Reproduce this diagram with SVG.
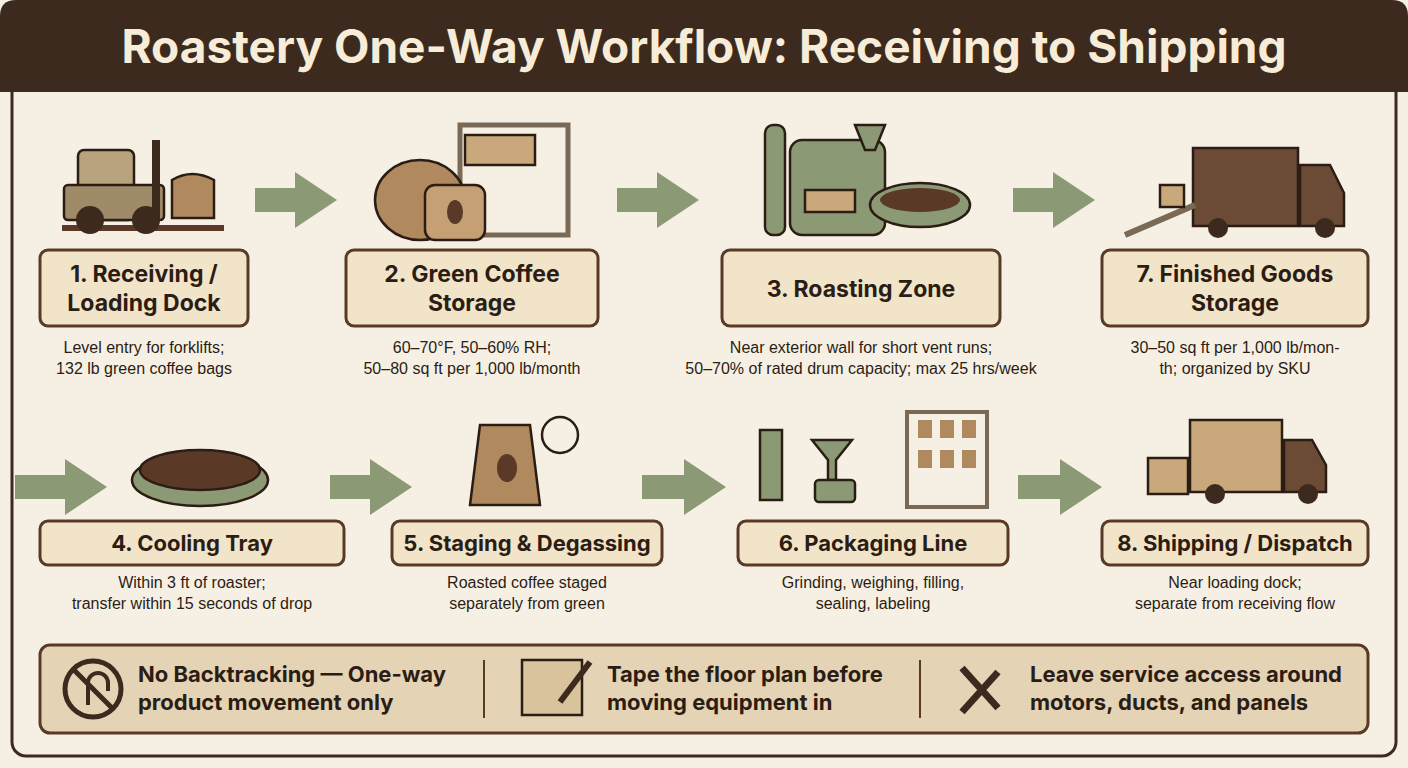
<svg xmlns="http://www.w3.org/2000/svg" width="1408" height="768" viewBox="0 0 1408 768">
<style>
.lbl{fill:#f1e4c9;stroke:#5a3a26;stroke-width:3}
.t{font-family:Inter,"Liberation Sans",sans-serif;font-weight:700;fill:#2b1d14;text-anchor:middle}
.d{font-family:"Liberation Sans",sans-serif;font-size:16px;fill:#2b1d14;text-anchor:middle}
.b{font-family:Inter,"Liberation Sans",sans-serif;font-weight:700;font-size:22px;fill:#2b1d14}
.ar{fill:#8b9a74}
.ink{stroke:#2b1d14;stroke-width:2.5}
</style>
<rect width="1408" height="768" fill="#f6f0e4"/>
<rect x="12" y="70" width="1384" height="686" rx="14" fill="#f6f0e4" stroke="#3d2a1e" stroke-width="3"/>
<path d="M0 92V16Q0 0 16 0H1392Q1408 0 1408 16V92Z" fill="#3d2a1e"/>
<text x="704" y="63" class="t" style="font-size:46px;fill:#f6ecd8">Roastery One-Way Workflow: Receiving to Shipping</text>

<g id="connectors">
<path class="ar" d="M255 188H295V172L337 200L295 228V212H255Z"/>
<path class="ar" d="M617 188H657V172L699 200L657 228V212H617Z"/>
<path class="ar" d="M1013 188H1053V172L1095 200L1053 228V212H1013Z"/>
<path class="ar" d="M15 475H65V459L107 487L65 515V499H15Z"/>
<path class="ar" d="M330 475H370V459L412 487L370 515V499H330Z"/>
<path class="ar" d="M642 475H684V459L726 487L684 515V499H642Z"/>
<path class="ar" d="M1018 475H1060V459L1102 487L1060 515V499H1018Z"/>
</g>

<g id="n1">
<rect x="62" y="225" width="162" height="6" fill="#5a3a26"/>
<rect x="78" y="150" width="56" height="70" rx="6" fill="#b9a27e" class="ink"/>
<rect x="64" y="185" width="100" height="35" rx="4" fill="#a08b68" class="ink"/>
<circle cx="90" cy="220" r="14" fill="#3d2a1e"/><circle cx="146" cy="220" r="14" fill="#3d2a1e"/>
<rect x="152" y="140" width="8" height="82" fill="#3d2a1e"/>
<path d="M172 180q20-12 42 0v38h-42z" fill="#b08a5e" class="ink"/>
<rect class="lbl" x="40" y="250" width="208" height="76" rx="8"/>
<text x="144" y="282" class="t" font-size="23">1. Receiving /</text>
<text x="144" y="311" class="t" font-size="23">Loading Dock</text>
<text x="144" y="353" class="d">Level entry for forklifts;</text>
<text x="144" y="374" class="d">132 lb green coffee bags</text>
</g>

<g id="n2">
<rect x="460" y="125" width="108" height="110" fill="none" stroke="#7a6a55" stroke-width="5"/>
<rect x="465" y="135" width="70" height="30" fill="#c9a97c" class="ink"/>
<ellipse cx="420" cy="200" rx="45" ry="40" fill="#b08a5e" class="ink"/>
<rect x="425" y="185" width="60" height="55" rx="10" fill="#c4a074" class="ink"/>
<ellipse cx="455" cy="212" rx="8" ry="12" fill="#5a3a26"/>
<rect class="lbl" x="346" y="250" width="252" height="76" rx="8"/>
<text x="472" y="282" class="t" font-size="23">2. Green Coffee</text>
<text x="472" y="311" class="t" font-size="23">Storage</text>
<text x="472" y="353" class="d">60–70°F, 50–60% RH;</text>
<text x="472" y="374" class="d">50–80 sq ft per 1,000 lb/month</text>
</g>

<g id="n3">
<rect x="765" y="125" width="20" height="110" rx="8" fill="#8b9a74" class="ink"/>
<rect x="790" y="140" width="95" height="95" rx="12" fill="#8b9a74" class="ink"/>
<rect x="805" y="190" width="50" height="22" fill="#c9a97c" class="ink"/>
<path d="M855 125h30l-10 25h-10z" fill="#8b9a74" class="ink"/>
<ellipse cx="920" cy="205" rx="50" ry="22" fill="#8b9a74" class="ink"/>
<ellipse cx="920" cy="200" rx="40" ry="12" fill="#5a3a26"/>
<rect class="lbl" x="722" y="250" width="278" height="76" rx="8"/>
<text x="861" y="297" class="t" font-size="23">3. Roasting Zone</text>
<text x="861" y="353" class="d">Near exterior wall for short vent runs;</text>
<text x="861" y="374" class="d">50–70% of rated drum capacity; max 25 hrs/week</text>
</g>

<g id="n7">
<rect x="1193" y="148" width="105" height="78" fill="#6b4a36" class="ink"/>
<path d="M1300 165h30l14 28v33h-44z" fill="#6b4a36" class="ink"/>
<circle cx="1218" cy="228" r="10" fill="#3d2a1e"/><circle cx="1325" cy="228" r="10" fill="#3d2a1e"/>
<path d="M1125 235l70-30" stroke="#7a6a55" stroke-width="6"/>
<rect x="1160" y="185" width="24" height="22" fill="#c9a97c" class="ink"/>
<rect class="lbl" x="1102" y="250" width="266" height="76" rx="8"/>
<text x="1235" y="282" class="t" font-size="23">7. Finished Goods</text>
<text x="1235" y="311" class="t" font-size="23">Storage</text>
<text x="1235" y="353" class="d">30–50 sq ft per 1,000 lb/mon-</text>
<text x="1235" y="374" class="d">th; organized by SKU</text>
</g>

<g id="n4">
<ellipse cx="200" cy="480" rx="68" ry="26" fill="#8b9a74" class="ink"/>
<ellipse cx="200" cy="470" rx="60" ry="20" fill="#5a3a26" class="ink"/>
<rect class="lbl" x="40" y="521" width="304" height="44" rx="8"/>
<text x="192" y="551" class="t" font-size="22">4. Cooling Tray</text>
<text x="192" y="588" class="d">Within 3 ft of roaster;</text>
<text x="192" y="609" class="d">transfer within 15 seconds of drop</text>
</g>

<g id="n5">
<path d="M480 425h50l10 80h-70z" fill="#b08a5e" class="ink"/>
<ellipse cx="507" cy="468" rx="10" ry="14" fill="#5a3a26"/>
<circle cx="560" cy="435" r="18" fill="#f6f0e4" class="ink"/>
<rect class="lbl" x="392" y="521" width="270" height="44" rx="8"/>
<text x="527" y="551" class="t" font-size="22">5. Staging &amp; Degassing</text>
<text x="527" y="588" class="d">Roasted coffee staged</text>
<text x="527" y="609" class="d">separately from green</text>
</g>

<g id="n6">
<rect x="760" y="430" width="22" height="70" fill="#8b9a74" class="ink"/>
<path d="M812 440h40l-16 20v20h-8v-20z" fill="#8b9a74" class="ink"/>
<rect x="815" y="480" width="40" height="22" rx="4" fill="#8b9a74" class="ink"/>
<rect x="907" y="412" width="80" height="95" fill="none" stroke="#7a6a55" stroke-width="4"/>
<rect x="918" y="420" width="14" height="18" fill="#b08a5e"/><rect x="940" y="420" width="14" height="18" fill="#b08a5e"/><rect x="962" y="420" width="14" height="18" fill="#b08a5e"/>
<rect x="918" y="450" width="14" height="18" fill="#b08a5e"/><rect x="940" y="450" width="14" height="18" fill="#b08a5e"/><rect x="962" y="450" width="14" height="18" fill="#b08a5e"/>
<rect class="lbl" x="738" y="521" width="270" height="44" rx="8"/>
<text x="873" y="551" class="t" font-size="22">6. Packaging Line</text>
<text x="873" y="588" class="d">Grinding, weighing, filling,</text>
<text x="873" y="609" class="d">sealing, labeling</text>
</g>

<g id="n8">
<rect x="1190" y="420" width="92" height="72" fill="#c9a97c" class="ink"/>
<path d="M1284 440h28l14 25v27h-42z" fill="#6b4a36" class="ink"/>
<circle cx="1215" cy="494" r="10" fill="#3d2a1e"/><circle cx="1308" cy="494" r="10" fill="#3d2a1e"/>
<rect x="1148" y="458" width="40" height="36" fill="#c9a97c" class="ink"/>
<rect class="lbl" x="1102" y="521" width="266" height="44" rx="8"/>
<text x="1235" y="551" class="t" font-size="22">8. Shipping / Dispatch</text>
<text x="1235" y="588" class="d">Near loading dock;</text>
<text x="1235" y="609" class="d">separate from receiving flow</text>
</g>

<g id="tips">
<rect x="40" y="645" width="1328" height="88" rx="10" fill="#e4d3b4" stroke="#5a3a26" stroke-width="3"/>
<line x1="484" y1="660" x2="484" y2="718" stroke="#5a3a26" stroke-width="2"/>
<line x1="920" y1="660" x2="920" y2="718" stroke="#5a3a26" stroke-width="2"/>
<circle cx="93" cy="689" r="28" fill="#e4d3b4" stroke="#3d2a1e" stroke-width="5"/>
<path d="M88 705v-22a10 10 0 0 1 20 0v8" fill="none" stroke="#3d2a1e" stroke-width="4"/>
<line x1="73" y1="669" x2="113" y2="709" stroke="#3d2a1e" stroke-width="5"/>
<text x="138" y="682" class="b">No Backtracking — One-way</text>
<text x="138" y="710" class="b">product movement only</text>
<rect x="522" y="660" width="60" height="55" fill="#d9c39c" class="ink"/>
<path d="M590 662l-30 40" stroke="#3d2a1e" stroke-width="6"/>
<text x="607" y="682" class="b">Tape the floor plan before</text>
<text x="607" y="710" class="b">moving equipment in</text>
<path d="M962 712l36-40M962 668l36 40" stroke="#3d2a1e" stroke-width="7"/>
<text x="1030" y="682" class="b">Leave service access around</text>
<text x="1030" y="710" class="b">motors, ducts, and panels</text>
</g>
</svg>
